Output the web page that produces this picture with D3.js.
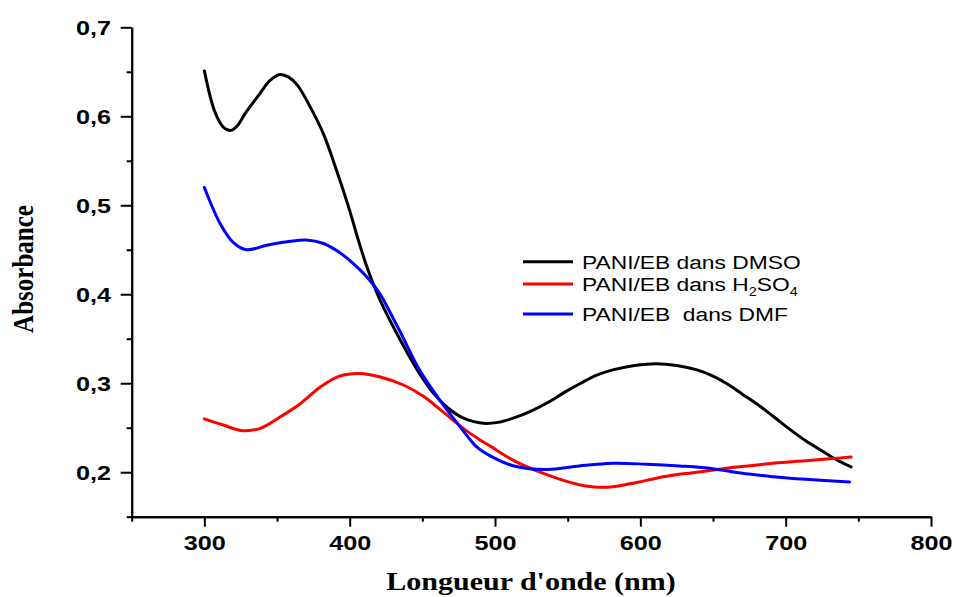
<!DOCTYPE html>
<html>
<head>
<meta charset="utf-8">
<script src="https://cdn.jsdelivr.net/npm/d3@7"></script>
<style>
  body { margin: 0; background: #fff; }
  svg { display: block; }
</style>
</head>
<body>
<div id="chart"></div>
<script>
// UV-vis spectra of PANI/EB in three solvents

const dmsoWl  = [300, 307, 313, 318, 323, 328, 338, 345, 352, 358, 364, 373, 382, 391, 400, 405, 412, 421, 435, 448, 458, 467, 478, 492, 502, 513, 524, 536, 548, 559, 570, 581, 596, 611, 625, 639, 650, 661, 670, 680, 692, 703, 714, 724, 735, 745];
const dmsoAbs = [0.651, 0.606, 0.588, 0.584, 0.590, 0.603, 0.625, 0.640, 0.647, 0.644, 0.635, 0.610, 0.580, 0.539, 0.494, 0.466, 0.430, 0.393, 0.348, 0.311, 0.288, 0.273, 0.261, 0.255, 0.256, 0.261, 0.268, 0.278, 0.290, 0.300, 0.309, 0.315, 0.320, 0.322, 0.320, 0.315, 0.308, 0.298, 0.288, 0.277, 0.262, 0.248, 0.235, 0.225, 0.214, 0.206];

const h2so4Wl  = [300, 313, 325, 338, 352, 366, 380, 393, 407, 421, 437, 451, 464, 480, 490, 497, 513, 536, 558, 575, 593, 616, 639, 662, 680, 691, 714, 730, 745];
const h2so4Abs = [0.260, 0.253, 0.247, 0.249, 0.262, 0.277, 0.296, 0.308, 0.311, 0.307, 0.298, 0.285, 0.268, 0.247, 0.236, 0.229, 0.213, 0.197, 0.186, 0.183, 0.187, 0.195, 0.200, 0.205, 0.208, 0.210, 0.213, 0.215, 0.217];

const dmfWl  = [300, 311, 320, 329, 343, 357, 370, 382, 393, 400, 412, 421, 428, 435, 448, 462, 476, 487, 497, 513, 536, 558, 581, 604, 627, 650, 669, 691, 714, 744];
const dmfAbs = [0.520, 0.479, 0.458, 0.450, 0.455, 0.459, 0.461, 0.457, 0.447, 0.438, 0.419, 0.400, 0.379, 0.357, 0.315, 0.281, 0.251, 0.229, 0.218, 0.207, 0.203, 0.207, 0.210, 0.209, 0.207, 0.204, 0.199, 0.195, 0.192, 0.189];

const xMajor = [300, 400, 500, 600, 700, 800];
const xMinor = [250, 350, 450, 550, 650, 750];
const yMajor = [0.2, 0.3, 0.4, 0.5, 0.6, 0.7];
const yMinor = [0.15, 0.25, 0.35, 0.45, 0.55, 0.65];

const seriesNames  = ["DMSO", "H2SO4", "DMF"];
const seriesColors = ["#000000", "#ff0000", "#0000ff"];

const W = 955, H = 597;
const sx = 1.2; // the source picture is stretched horizontally

const svg = d3.select("#chart").append("svg")
    .attr("width", W)
    .attr("height", H);

const x = d3.scaleLinear().domain([250, 800]).range([131.7, 931]);
const y = d3.scaleLinear().domain([0.15, 0.7]).range([516.7, 27.3]);

const fmt = d => d3.format(".1f")(d).replace(".", ",");

// axes
const yAxis = svg.append("g")
    .attr("transform", `translate(${x(250)},0)`)
    .call(d3.axisLeft(y).tickValues(yMajor).tickSize(11).tickSizeOuter(0).tickFormat(fmt));
svg.append("g")
    .attr("transform", `translate(${x(250)},0)`)
    .call(d3.axisLeft(y).tickValues(yMinor).tickSize(5).tickSizeOuter(0).tickFormat(""));

const xAxis = svg.append("g")
    .attr("transform", `translate(0,${y(0.15)})`)
    .call(d3.axisBottom(x).tickValues(xMajor).tickSize(10).tickSizeOuter(0).tickFormat(d3.format("d")));
svg.append("g")
    .attr("transform", `translate(0,${y(0.15)})`)
    .call(d3.axisBottom(x).tickValues(xMinor).tickSize(5).tickSizeOuter(0).tickFormat(""));

svg.selectAll(".domain").attr("stroke", "#000").attr("stroke-width", 2);
svg.selectAll(".tick line").attr("stroke", "#000").attr("stroke-width", 2);

yAxis.selectAll("text")
    .attr("x", -20.7 / sx)
    .attr("dy", "0.35em")
    .attr("transform", `scale(${sx},1)`)
    .style("font-family", "'Liberation Sans', Arial, sans-serif")
    .style("font-weight", "bold")
    .style("font-size", "21px")
    .attr("fill", "#000");

xAxis.selectAll("text")
    .attr("y", 33)
    .attr("dy", 0)
    .attr("transform", `scale(${sx},1)`)
    .style("font-family", "'Liberation Sans', Arial, sans-serif")
    .style("font-weight", "bold")
    .style("font-size", "21px")
    .attr("fill", "#000");

// axis titles
svg.append("text")
    .attr("transform", `translate(33,269) scale(${sx},1) rotate(-90)`)
    .attr("text-anchor", "middle")
    .style("font-family", "'Liberation Serif', 'Times New Roman', serif")
    .style("font-weight", "bold")
    .style("font-size", "25px")
    .text("Absorbance");

svg.append("text")
    .attr("transform", `translate(531,590) scale(${sx},1)`)
    .attr("text-anchor", "middle")
    .style("font-family", "'Liberation Serif', 'Times New Roman', serif")
    .style("font-weight", "bold")
    .style("font-size", "25px")
    .text("Longueur d'onde (nm)");

// curves
const line = d3.line()
    .x(d => x(d[0]))
    .y(d => y(d[1]))
    .curve(d3.curveCatmullRom.alpha(0.5));

const series = [
    d3.zip(dmsoWl, dmsoAbs),
    d3.zip(h2so4Wl, h2so4Abs),
    d3.zip(dmfWl, dmfAbs)
];

svg.append("g").selectAll("path")
    .data(series)
    .join("path")
    .attr("d", line)
    .attr("fill", "none")
    .attr("stroke", (d, i) => seriesColors[i])
    .attr("stroke-width", 3)
    .attr("stroke-linejoin", "round")
    .attr("stroke-linecap", "round");

// legend
const legendY = [261.7, 284, 314];
const legend = svg.append("g");

legend.selectAll("line")
    .data(seriesNames)
    .join("line")
    .attr("x1", 523).attr("x2", 573)
    .attr("y1", (d, i) => legendY[i]).attr("y2", (d, i) => legendY[i])
    .attr("stroke", (d, i) => seriesColors[i])
    .attr("stroke-width", 3);

const labels = legend.selectAll("text")
    .data(seriesNames)
    .join("text")
    .attr("transform", (d, i) => `translate(582,${legendY[i] + 6.8}) scale(${sx},1)`)
    .style("font-family", "'Liberation Sans', Arial, sans-serif")
    .style("font-size", "19px")
    .attr("fill", "#000");

labels.each(function(d) {
    const t = d3.select(this);
    if (d === "H2SO4") {
        t.append("tspan").text("PANI/EB dans H");
        t.append("tspan").attr("dy", 5).style("font-size", "12px").text("2");
        t.append("tspan").attr("dy", -5).text("SO");
        t.append("tspan").attr("dy", 5).style("font-size", "12px").text("4");
    } else if (d === "DMF") {
        t.append("tspan").attr("xml:space", "preserve").style("white-space", "pre").text("PANI/EB  dans DMF");
    } else {
        t.text(`PANI/EB dans ${d}`);
    }
});
</script>
</body>
</html>
